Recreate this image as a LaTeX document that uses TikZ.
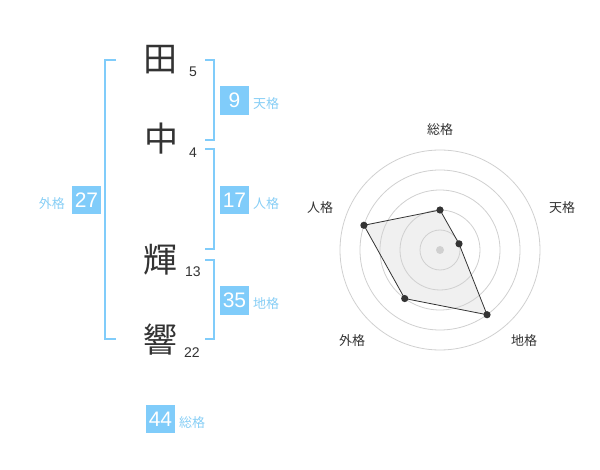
\documentclass[tikz,border=0pt]{standalone}
\usepackage{fontspec}
\usepackage{tikz}
\usetikzlibrary{positioning}
\setmainfont{Liberation Sans}
\newfontfamily\jpfont{Noto Sans CJK JP}
\definecolor{kakublue}{RGB}{128,204,250}
\definecolor{kakutext}{RGB}{135,206,245}
\definecolor{inkgray}{RGB}{51,51,51}
\definecolor{ringgray}{RGB}{208,208,208}
\newcommand{\kakuSize}[0]{28.7pt}

\begin{document}
\begin{tikzpicture}[x=1pt, y=-1pt]
  \tikzset{kanji/.style={font=\jpfont\fontsize{34}{34}\selectfont, text=inkgray, inner sep=0pt},
    strokes/.style={font=\fontsize{14}{14}\selectfont, text=inkgray, inner sep=0pt},
    kakubox/.style={fill=kakublue, text=white, minimum size=\kakuSize, inner sep=0pt,
      font=\fontsize{21}{21}\selectfont},
    kakuname/.style={text=kakutext, font=\jpfont\fontsize{13}{13}\selectfont, inner sep=0pt},
    radarname/.style={text=inkgray, font=\jpfont\fontsize{13}{13}\selectfont, inner sep=0pt},
    bracket/.style={draw=kakublue, line width=2pt}}
  \useasboundingbox (0,0) rectangle (600,470);
  % name and stroke counts
  \node[kanji] (K-1) at (160,60) {田};
  \node[kanji] (K-2) at (161,139) {中};
  \node[kanji] (K-3) at (160,260) {輝};
  \node[kanji] (K-4) at (160,340) {響};
  \node[strokes] (S-1) at (193,72) {5};
  \node[strokes] (S-2) at (193,153) {4};
  \node[strokes] (S-3) at (193,272) {13};
  \node[strokes] (S-4) at (192,353) {22};
  % brackets
  \draw[bracket] (116,60) -- (105,60) -- (105,339) -- (116,339);
  \draw[bracket] (205,60) -- (214,60) -- (214,140) -- (205,140);
  \draw[bracket] (205,149) -- (214,149) -- (214,249) -- (205,249);
  \draw[bracket] (205,260) -- (214,260) -- (214,339) -- (205,339);
  % the five grids
  \node[kakubox] (ten) at (234.5,100.5) {9};
  \node[kakubox] (jin) at (234.5,200) {17};
  \node[kakubox] (gai) at (86.5,200) {27};
  \node[kakubox] (chi) at (234.5,300.5) {35};
  \node[kakubox] (sou) at (160.5,419) {44};
  \node[kakuname, anchor=west] (ten-name) at (253,104) {天格};
  \node[kakuname, anchor=west] (jin-name) at (253,204) {人格};
  \node[kakuname, anchor=east] (gai-name) at (65,204) {外格};
  \node[kakuname, anchor=west] (chi-name) at (253,304) {地格};
  \node[kakuname, anchor=west] (sou-name) at (179,423) {総格};
  % radar
  \begin{scope}[shift={(440,250)}, y=1pt]
    \foreach \ang/\val/\nm in {90/40/sou,18/20/ten,-54/80/chi,-126/60/gai,162/80/jin}
      \coordinate (r-\nm) at (\ang:\val);
    \fill[black!6] (r-sou) -- (r-ten) -- (r-chi) -- (r-gai) -- (r-jin) -- cycle;
    \foreach \r in {20,40,...,100}
      \draw[ringgray, line width=0.8pt] (0,0) circle (\r);
    \fill[ringgray] (0,0) circle (4);
    \draw[inkgray, line width=0.8pt] (r-sou) -- (r-ten) -- (r-chi) -- (r-gai) -- (r-jin) -- cycle;
    \foreach \nm in {sou,ten,chi,gai,jin}
      \fill[inkgray] (r-\nm) circle (3.6);
  \end{scope}
  \node[radarname] (sou-axis) at (440,130) {総格};
  \node[radarname] (ten-axis) at (562,208) {天格};
  \node[radarname] (chi-axis) at (524,341) {地格};
  \node[radarname] (gai-axis) at (352,341) {外格};
  \node[radarname] (jin-axis) at (320,208) {人格};
\end{tikzpicture}
\end{document}
